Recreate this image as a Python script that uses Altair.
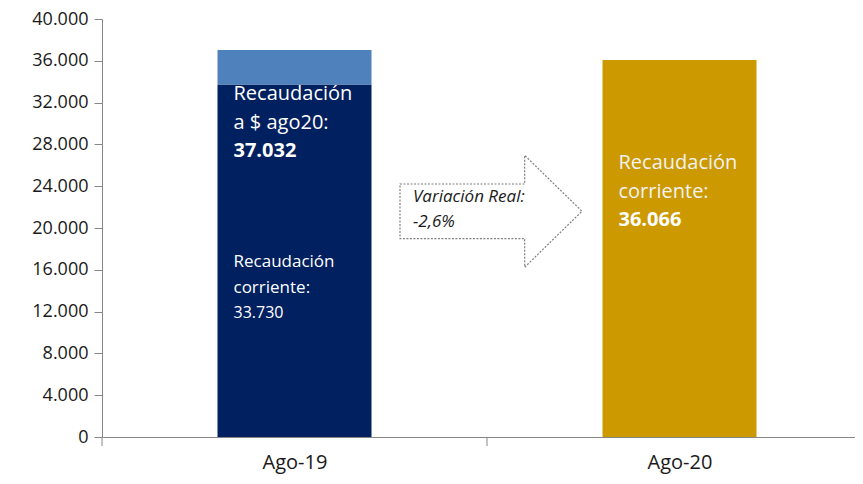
import altair as alt
import pandas as pd

categories = ["Ago-19", "Ago-20"]
recaudacion_corriente = [33730, 36066]
recaudacion_ago20 = 37032
variacion_real = "-2,6%"
y_ticks = [0, 4000, 8000, 12000, 16000, 20000, 24000, 28000, 32000, 36000, 40000]

NAVY = "#002060"
LIGHT = "#4F81BD"
GOLD = "#CC9900"
AXIS = "#868686"
FONT = "Open Sans"

STEP_PX = 385.0   # width of one category slot in pixels
WIDTH = 753
HALF_BAR = 0.2    # bar half width, in category units


def fmt(v):
    return f"{v:,}".replace(",", ".")


bars = pd.DataFrame({
    "idx": [0, 0, 1],
    "serie": ["corriente19", "ajuste", "corriente20"],
    "start": [0, recaudacion_corriente[0], 0],
    "end": [recaudacion_corriente[0], recaudacion_ago20, recaudacion_corriente[1]],
})

label_expr = "[" + ",".join(f"'{c}'" for c in categories) + "][datum.value]"
xscale = alt.Scale(domain=[-0.5, -0.5 + WIDTH / STEP_PX], nice=False, zero=False)
yscale = alt.Scale(domain=[0, 40000], nice=False)

bar_layer = alt.Chart(bars).transform_calculate(
    x0=f"datum.idx - {HALF_BAR}", x1=f"datum.idx + {HALF_BAR}"
).mark_bar().encode(
    x=alt.X("x0:Q", scale=xscale, title=None,
            axis=alt.Axis(values=list(range(len(categories))), labelExpr=label_expr, ticks=False,
                          grid=False, domainColor=AXIS, labelFontSize=20, labelFont=FONT,
                          labelColor="#1a1a1a", labelPadding=15, labelAngle=0, labelFlush=False)),
    x2="x1:Q",
    y=alt.Y("start:Q", scale=yscale, title=None,
            axis=alt.Axis(values=y_ticks, grid=False, domainColor=AXIS, tickColor=AXIS, tickSize=8,
                          labelExpr="replace(format(datum.value, ',d'), ',', '.')",
                          labelFontSize=18, labelFont=FONT, labelColor="#1a1a1a", labelPadding=6)),
    y2="end:Q",
    color=alt.Color("serie:N", legend=None,
                    scale=alt.Scale(domain=["corriente19", "ajuste", "corriente20"],
                                    range=[NAVY, LIGHT, GOLD])),
)

# x-axis ticks at category boundaries
tick_layer = alt.Chart(pd.DataFrame({"idx": list(range(len(categories)))})).transform_calculate(
    b="datum.idx - 0.5"
).mark_rule(color=AXIS, strokeWidth=1).encode(
    x=alt.X("b:Q"),
    y=alt.value(418),
    y2=alt.value(427),
)

# label groups: (category index, anchor value, [(text, size, weight, dy, color)])
groups = [
    (0, recaudacion_corriente[0], [
        ("Recaudación", 20, "normal", 9, "white"),
        ("a $ ago20:", 20, "normal", 38, "white"),
        (fmt(recaudacion_ago20), 20, "bold", 66, "white"),
    ]),
    (0, recaudacion_corriente[0] / 2, [
        ("Recaudación", 17, "normal", 1, "white"),
        ("corriente:", 17, "normal", 27, "white"),
        (fmt(recaudacion_corriente[0]), 16, "normal", 52, "white"),
    ]),
    (1, recaudacion_corriente[1], [
        ("Recaudación", 20, "normal", 103, "#F2F2F2"),
        ("corriente:", 20, "normal", 132, "#F2F2F2"),
        (fmt(recaudacion_corriente[1]), 20, "bold", 160, "white"),
    ]),
]

text_layers = []
for idx, val, lines in groups:
    for txt, size, weight, dy, col in lines:
        df = pd.DataFrame({"idx": [idx], "v": [val], "t": [txt]})
        text_layers.append(
            alt.Chart(df).transform_calculate(x0=f"datum.idx - {HALF_BAR}").mark_text(
                align="left", baseline="middle", dx=16, dy=dy,
                fontSize=size, fontWeight=weight, font=FONT, color=col).encode(
                x=alt.X("x0:Q"),
                y=alt.Y("v:Q"),
                text="t:N",
            )
        )

arrow_path = "M -1 -0.3 L 0.37 -0.3 L 0.37 -0.615 L 1 0 L 0.37 0.615 L 0.37 0.3 L -1 0.3 Z"
arrow_df = pd.DataFrame({"b": [0.5], "v": [21600]})
arrow_layer = alt.Chart(arrow_df).mark_point(
    shape=arrow_path, size=182 * 182, filled=True, fill="white", fillOpacity=1, opacity=1,
    stroke="#7f7f7f", strokeWidth=1.2, strokeDash=[2, 1.5], xOffset=4,
).encode(
    x=alt.X("b:Q"),
    y=alt.Y("v:Q"),
)

arrow_texts = []
for txt, dy in [("Variación Real:", -14), (variacion_real, 11)]:
    df = pd.DataFrame({"b": [0.5], "v": [21600], "t": [txt]})
    arrow_texts.append(
        alt.Chart(df).mark_text(align="left", baseline="middle", dx=-74, dy=dy, fontSize=17,
                                fontStyle="italic", font=FONT, color="#1a1a1a").encode(
            x=alt.X("b:Q"),
            y=alt.Y("v:Q"),
            text="t:N",
        )
    )

chart = alt.layer(bar_layer, tick_layer, arrow_layer, *arrow_texts, *text_layers).properties(
    width=WIDTH,
    height=418,
    autosize=alt.AutoSizeParams(type="none"),
    padding={"left": 94, "top": 11, "right": 0, "bottom": 39},
).configure_view(stroke=None)

chart.save("out.html", embed_options={"renderer": "svg", "actions": False})
